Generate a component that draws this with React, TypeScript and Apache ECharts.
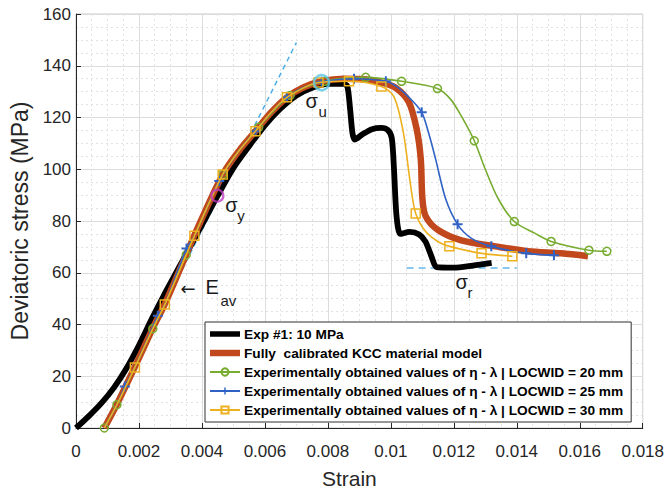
import React, { useEffect, useRef } from "react";
import * as echarts from "echarts";

const FONT = '"Liberation Sans", Arial, Helvetica, sans-serif';

// Tick labels
const xTickLabels = ["0", "0.002", "0.004", "0.006", "0.008", "0.01", "0.012", "0.014", "0.016", "0.018"];
const yTickLabels = ["0", "20", "40", "60", "80", "100", "120", "140", "160"];

// Series names
const seriesNames = [
  "Exp #1: 10 MPa",
  "Fully  calibrated KCC material model",
  "Experimentally obtained values of η - λ | LOCWID = 20 mm",
  "Experimentally obtained values of η - λ | LOCWID = 25 mm",
  "Experimentally obtained values of η - λ | LOCWID = 30 mm",
];

// [strain, stress]
const expCurve = [
  [0, 0], [0.0004, 4.5], [0.0008, 9.5], [0.0012, 15.5], [0.0016, 23], [0.002, 32], [0.0024, 42],
  [0.0028, 51.5], [0.0034, 65], [0.004, 78.5], [0.0045, 89.8], [0.005, 100.5], [0.0055, 109],
  [0.006, 117], [0.0065, 123.5], [0.007, 128.5], [0.0075, 131.5], [0.008, 133], [0.0085, 133],
  [0.00862, 132], [0.0087, 124], [0.00878, 114], [0.00885, 111.5], [0.0091, 113.5], [0.0094, 115.5],
  [0.0097, 116], [0.0099, 115.2], [0.01003, 112], [0.0101, 100], [0.01018, 82], [0.0103, 75],
  [0.0106, 75.8], [0.0109, 74.8], [0.0111, 72], [0.0113, 66], [0.01145, 62.2], [0.012, 62],
  [0.0126, 62.8], [0.0132, 63.8],
];

const kccCurve = [
  [0.0009, 0], [0.0013, 9.2], [0.00187, 23.6], [0.00244, 38.6], [0.00282, 47.9], [0.0035, 67],
  [0.00376, 74.5], [0.00466, 98], [0.0052, 107.5], [0.0057, 114.7], [0.0062, 122], [0.0067, 127.8],
  [0.0072, 131.5], [0.0078, 134], [0.0085, 135], [0.0092, 134.8], [0.0097, 133.5], [0.01015, 131.5],
  [0.01057, 126], [0.01082, 115.5], [0.01095, 104], [0.011, 89], [0.0111, 82], [0.0115, 76.5],
  [0.01224, 72.5], [0.01332, 70.2], [0.01436, 68.3], [0.0154, 67.5], [0.01626, 66.4],
];

// [strain, stress, marker?]
const loc20Curve = [
  [0.0009, 0, 1], [0.0013, 9, 1], [0.00187, 23.4, 0], [0.00244, 38.4, 1], [0.00282, 47.7, 0],
  [0.0035, 66.9, 1], [0.00466, 98, 1], [0.0052, 107.5, 0], [0.0058, 116.2, 1], [0.0068, 128.5, 1],
  [0.0079, 134, 1], [0.0092, 135.5, 1], [0.01034, 134, 1], [0.01148, 131.2, 1], [0.0119, 127, 0],
  [0.01224, 120.5, 0], [0.01265, 111, 1], [0.013, 100, 0], [0.01341, 88.6, 0], [0.01392, 79.8, 1],
  [0.01458, 75.2, 0], [0.01509, 72.1, 1], [0.01629, 68.7, 1], [0.01686, 68.3, 1],
];

const loc25Curve = [
  [0.0009, 0, 0], [0.0013, 9, 0], [0.00155, 16, 1], [0.00187, 23.4, 0], [0.0026, 43.4, 1],
  [0.00282, 47.7, 0], [0.00351, 69.4, 1], [0.00376, 74.3, 0], [0.00455, 95.5, 1], [0.0052, 107.5, 0],
  [0.0057, 114.7, 1], [0.0062, 122, 0], [0.0067, 127.8, 1], [0.0072, 131.5, 0], [0.0078, 133.8, 1],
  [0.00883, 135, 1], [0.00984, 134, 1], [0.0102, 131.8, 0], [0.0106, 127.5, 0], [0.01098, 122, 1],
  [0.0112, 114, 0], [0.01142, 104, 0], [0.01174, 88.6, 0], [0.01212, 78.7, 1], [0.01256, 73.3, 0],
  [0.01319, 70.2, 1], [0.0143, 67.5, 1], [0.01518, 66.8, 1],
];

const loc30Curve = [
  [0.0009, 0, 0], [0.0013, 9, 0], [0.00187, 23.4, 1], [0.00244, 38.4, 0], [0.00282, 47.7, 1],
  [0.0035, 66.9, 0], [0.00376, 74.3, 1], [0.00466, 98, 1], [0.0052, 107.5, 0], [0.0057, 114.7, 1],
  [0.0062, 122, 0], [0.0067, 127.8, 1], [0.0077, 133.5, 1], [0.00867, 134, 1], [0.0097, 132, 1],
  [0.0101, 128, 0], [0.0104, 114, 0], [0.01063, 93.6, 0], [0.01079, 82.9, 1], [0.0111, 76, 0],
  [0.0115, 72, 0], [0.01186, 70.2, 1], [0.01288, 67.5, 1], [0.01386, 66.4, 1],
];

// Annotations
const tangentLine = [[0.00105, 5], [0.007, 149]];
const residualLine = [[0.0105, 61.8], [0.014, 61.8]];
const sigmaYPoint = [0.00449, 89.8];
const sigmaUPoint = [0.0078, 133.5];
const eavArrowTip = [0.00335, 54.1];

const BLACK = "#000000";
const RED = "#C1471D";
const GREEN = "#77AC30";
const BLUE = "#2F62C4";
const YELLOW = "#EDB120";
const PLUS = "path://M4,0h2v4h4v2h-4v4h-2v-4h-4v-2h4z";

export default function App() {
  const ref = useRef<HTMLDivElement>(null);

  useEffect(() => {
    const chart = echarts.init(ref.current!, null, { renderer: "svg" });

    const marked = (pts: number[][], sym: string, size: number) =>
      pts.map((p) => ({ value: [p[0], p[1]], symbol: p[2] ? sym : "none", symbolSize: size }));

    const option: any = {
      animation: false,
      backgroundColor: "#ffffff",
      grid: {
        left: 76, right: 22, top: 14, bottom: 63,
        show: true, borderColor: "#c8c8c8", borderWidth: 1, backgroundColor: "#ffffff",
      },
      legend: {
        data: [
          { name: seriesNames[0], icon: "path://M0,0H30V5.5H0Z" },
          { name: seriesNames[1], icon: "path://M0,0H30V6.5H0Z" },
          { name: seriesNames[2] },
          { name: seriesNames[3] },
          { name: seriesNames[4] },
        ],
        orient: "vertical",
        left: 205,
        top: 322,
        itemWidth: 30,
        itemHeight: 9,
        itemGap: 3,
        padding: [4, 8, 4, 4],
        borderColor: "#303030",
        borderWidth: 1,
        backgroundColor: "#ffffff",
        textStyle: {
          fontFamily: FONT, fontSize: 13.7, fontWeight: "bold", color: "#000",
          lineHeight: 16, padding: [0, 0, 0, -1],
        },
      },
      xAxis: {
        type: "value",
        min: 0,
        max: 0.018,
        interval: 0.002,
        name: "Strain",
        nameLocation: "middle",
        nameGap: 40,
        nameTextStyle: { fontFamily: FONT, fontSize: 21, color: "#262626", padding: [0, 20, 0, 0] },
        axisLine: { show: true, onZero: false, lineStyle: { color: "#262626", width: 1 } },
        axisTick: { show: true, inside: true, length: 5, lineStyle: { color: "#262626" } },
        minorTick: { show: false, splitNumber: 4 },
        axisLabel: {
          fontFamily: FONT, fontSize: 17, color: "#262626", margin: 15,
          formatter: (v: number) => xTickLabels[Math.round(v / 0.002)] ?? "",
        },
        splitLine: { show: true, lineStyle: { color: "#dcdcdc", width: 1 } },
        minorSplitLine: { show: true, lineStyle: { color: "#e2e2e2", width: 1, type: [2, 3] } },
      },
      yAxis: {
        type: "value",
        min: 0,
        max: 160,
        interval: 20,
        name: "Deviatoric stress (MPa)",
        nameLocation: "middle",
        nameGap: 45,
        nameTextStyle: { fontFamily: FONT, fontSize: 23, color: "#262626" },
        axisLine: { show: true, onZero: false, lineStyle: { color: "#262626", width: 1 } },
        axisTick: { show: true, inside: true, length: 5, lineStyle: { color: "#262626" } },
        minorTick: { show: false, splitNumber: 4 },
        axisLabel: {
          fontFamily: FONT, fontSize: 17, color: "#262626", margin: 5,
          formatter: (v: number) => yTickLabels[Math.round(v / 20)] ?? "",
        },
        splitLine: { show: true, lineStyle: { color: "#dcdcdc", width: 1 } },
        minorSplitLine: { show: true, lineStyle: { color: "#e2e2e2", width: 1, type: [2, 3] } },
      },
      series: [
        {
          name: "tangent", type: "line", data: tangentLine, symbol: "none", z: 1,
          lineStyle: { color: "#4DAEEA", width: 1.5, type: [5, 4] }, silent: true,
        },
        {
          name: "residual", type: "line", data: residualLine, symbol: "none", z: 1,
          lineStyle: { color: "#63B7EA", width: 1.5, type: [7, 5] }, silent: true,
        },
        {
          name: seriesNames[0], type: "line", data: expCurve, symbol: "none",
          smooth: 0.25, z: 2,
          lineStyle: { color: BLACK, width: 5.8 }, itemStyle: { color: BLACK },
        },
        {
          name: seriesNames[1], type: "line", data: kccCurve, symbol: "none",
          smooth: 0.3, z: 3,
          lineStyle: { color: RED, width: 6.5 }, itemStyle: { color: RED },
        },
        {
          name: seriesNames[2], type: "line", data: marked(loc20Curve, "circle", 8),
          symbol: "circle", symbolSize: 8, smooth: 0.3, z: 4,
          lineStyle: { color: GREEN, width: 1.6 },
          itemStyle: { color: "rgba(255,255,255,0)", borderColor: GREEN, borderWidth: 1.5 },
        },
        {
          name: seriesNames[3], type: "line", data: marked(loc25Curve, PLUS, 10),
          symbol: PLUS, symbolSize: 10, smooth: 0.3, z: 5,
          lineStyle: { color: BLUE, width: 1.6 },
          itemStyle: { color: BLUE },
        },
        {
          name: seriesNames[4], type: "line", data: marked(loc30Curve, "rect", 9),
          symbol: "rect", symbolSize: 9, smooth: 0.3, z: 6,
          lineStyle: { color: YELLOW, width: 1.6 },
          itemStyle: { color: "rgba(255,255,255,0)", borderColor: YELLOW, borderWidth: 1.5 },
        },
        {
          name: "sigmaY", type: "scatter", data: [sigmaYPoint], symbol: "circle", symbolSize: 12, z: 8,
          itemStyle: { color: "rgba(255,255,255,0)", borderColor: "#C03AC0", borderWidth: 2.2 }, silent: true,
        },
        {
          name: "sigmaU", type: "scatter", data: [sigmaUPoint], symbol: "circle", symbolSize: 15, z: 8,
          itemStyle: { color: "rgba(255,255,255,0)", borderColor: "#5CC6E6", borderWidth: 2.5 }, silent: true,
        },
      ],
    };

    chart.setOption(option);

    const px = (d: number[]) => chart.convertToPixel({ gridIndex: 0 }, d) as number[];
    const t = (x: number, y: number, text: string, size: number, family = FONT) => ({
      type: "text",
      x,
      y,
      silent: true,
      z: 100,
      style: { text, fontSize: size, fontFamily: family, fill: "#1a1a1a", align: "left", verticalAlign: "middle" },
    });

    const [syx, syy] = px(sigmaYPoint);
    const [sux, suy] = px(sigmaUPoint);
    const [srx, sry] = px(residualLine[0]);
    const [ex, ey] = px(eavArrowTip);

    chart.setOption({
      graphic: [
        t(syx + 8, syy + 9, "σ", 20),
        t(syx + 20, syy + 20, "y", 15),
        t(sux - 16, suy + 18, "σ", 20),
        t(sux - 3, suy + 29, "u", 15),
        t(srx + 49, sry + 14, "σ", 20),
        t(srx + 61, sry + 24, "r", 15),
        t(ex - 1, ey, "←", 18, '"DejaVu Sans", sans-serif'),
        t(ex + 24, ey - 1, "E", 20),
        t(ex + 39, ey + 12, "av", 15),
      ],
    });

    return () => chart.dispose();
  }, []);

  return (
    <div
      ref={ref}
      style={{ position: "fixed", left: 0, top: 0, width: 667, height: 494, background: "#ffffff" }}
    />
  );
}
